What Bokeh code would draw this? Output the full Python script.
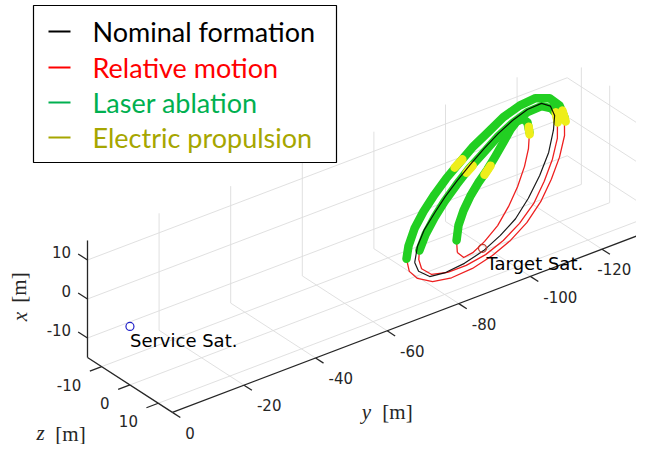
import numpy as np
from bokeh.plotting import figure
from bokeh.models import Range1d
from bokeh.embed import file_html
from bokeh.resources import INLINE
from bokeh.core.properties import value

# ---------------- data (metres) ----------------
X_LIM = (-15, 15)
Y_LIM = (-134, 0)
Z_LIM = (-15, 15)
X_TICKS = [-10, 0, 10]
Y_TICKS = [0, -20, -40, -60, -80, -100, -120]
Z_TICKS = [-10, 0, 10]

# nominal formation (closed ellipse)
nominal_x = [-6.5, -4.3, -2.2, -0.3, 1.5, 3.2, 4.8, 6.4, 7.8, 8.9, 9.7, 9.8, 8.9, 7.3, 5.2, 2.2,
             -0.7, -3.4, -5.7, -7.3, -8.6, -9.4, -9.7, -9.4, -8.0, -6.5]
nominal_y = [-74.4, -76.9, -80.5, -84.9, -89.3, -94.0, -98.9, -104.1, -109.1, -113.9, -118.7,
             -122.7, -124.5, -124.4, -122.4, -118.7, -113.9, -108.6, -103.2, -97.7, -92.0, -86.0,
             -80.5, -76.3, -74.3, -74.4]
nominal_z = [6.5, 4.3, 2.2, 0.3, -1.5, -3.2, -4.8, -6.4, -7.8, -8.9, -9.7, -9.8, -8.9, -7.3, -5.2,
             -2.2, 0.7, 3.4, 5.7, 7.3, 8.6, 9.4, 9.7, 9.4, 8.0, 6.5]

# relative motion, three revolutions
rel1_x = [-5.5, -3.7, -1.5, 0.5, 2.4, 4.1, 5.7, 7.3, 8.6, 9.9, 10.7, 10.9, 10.1, 8.5, 6.5, 3.8, 0.9,
          -1.9, -4.6, -6.9, -8.6, -9.8, -10.6, -10.8, -10.3, -9.0, -7.5, -5.5]
rel1_y = [-72.9, -74.9, -78.3, -82.4, -87.0, -91.6, -96.6, -101.7, -107.0, -112.1, -117.3, -121.9,
          -125.2, -126.7, -126.5, -124.4, -120.7, -116.2, -111.1, -105.4, -99.5, -93.5, -87.3,
          -81.3, -76.4, -73.2, -72.1, -72.9]
rel1_z = [5.5, 3.7, 1.5, -0.5, -2.4, -4.1, -5.7, -7.3, -8.6, -9.9, -10.7, -10.9, -10.1, -8.5, -6.5,
          -3.8, -0.9, 1.9, 4.6, 6.9, 8.6, 9.8, 10.6, 10.8, 10.3, 9.0, 7.5, 5.5]

rel2_x = [-5.0, -3.0, -1.0, 0.8, 2.6, 4.3, 5.8, 7.3, 8.5, 9.3, 9.4, 8.5, 7.3, 6.3, 3.8, 1.0, -1.8,
          -4.5, -6.6, -8.2, -9.3, -9.8, -9.8, -9.2, -7.8, -6.3, -5.0]
rel2_y = [-76.9, -80.2, -84.3, -88.5, -93.3, -98.2, -103.4, -108.4, -113.6, -118.4, -122.4, -124.5,
          -125.0, -124.4, -122.4, -118.8, -114.3, -109.2, -103.6, -97.8, -92.0, -86.2, -81.0,
          -77.0, -75.3, -75.7, -76.9]
rel2_z = [5.0, 3.0, 1.0, -0.8, -2.6, -4.3, -5.8, -7.3, -8.5, -9.3, -9.4, -8.5, -7.3, -6.3, -3.8,
          -1.0, 1.8, 4.5, 6.6, 8.2, 9.3, 9.8, 9.8, 9.2, 7.8, 6.3, 5.0]

rel3_x = [-7.4, -5.6, -3.5, -1.6, 0.2, 1.7, 3.1, 4.6, 6.2, 7.7, 8.5, 8.6, 7.8, 6.2, 3.9, 1.5, -1.1,
          -3.5, -5.7, -7.3, -8.3, -8.5, -7.4]
rel3_y = [-85.6, -86.8, -89.0, -91.9, -95.3, -98.7, -102.3, -105.7, -109.2, -112.4, -114.7, -116.5,
          -117.2, -116.5, -114.4, -111.4, -107.4, -103.0, -98.2, -93.3, -89.2, -86.5, -85.6]
rel3_z = [7.4, 5.6, 3.5, 1.6, -0.2, -1.7, -3.1, -4.6, -6.2, -7.7, -8.5, -8.6, -7.8, -6.2, -3.9,
          -1.5, 1.1, 3.5, 5.7, 7.3, 8.3, 8.5, 7.4]

# laser ablation arcs: (revolution, first index, end index) along the relative motion
laser_arcs = [(1, 0, 15), (2, 0, 14), (3, 1, 14)]

# electric propulsion arcs (start / end points)
prop_x = [[7.6, 5.8], [7.7, 6.1], [7.1, 5.9], [5.2, 6.0], [3.8, 4.5], [2.5, 3.5]]
prop_y = [[-126.8, -126.3], [-125.0, -124.3], [-117.0, -116.3], [-94.8, -97.6], [-97.0, -99.3],
          [-101.0, -103.5]]
prop_z = [[-7.6, -5.8], [-7.7, -6.1], [-7.1, -5.9], [-5.2, -6.0], [-3.8, -4.5], [-2.5, -3.5]]

target_xyz = (-8.2, -92.0, 8.2)
service_xyz = (0.0, 0.0, 0.0)

legend_labels = ["Nominal formation", "Relative motion", "Laser ablation", "Electric propulsion"]

# ---------------- projection (view geometry, screen pixels) ----------------
W, H = 636, 444
O_PX = (87.0, 357.0)      # corner (x=-15, y=0, z=-15)
EX = (0.0, -3.9)          # per metre of x
EY = (-3.58, 1.36)        # per metre of y
EZ = (2.83, 1.83)         # per metre of z


def proj(x, y, z):
    x = np.asarray(x, dtype=float)
    y = np.asarray(y, dtype=float)
    z = np.asarray(z, dtype=float)
    dx, dy, dz = x - X_LIM[0], y - Y_LIM[1], z - Z_LIM[0]
    sx = O_PX[0] + dx * EX[0] + dy * EY[0] + dz * EZ[0]
    sy = O_PX[1] + dx * EX[1] + dy * EY[1] + dz * EZ[1]
    return sx, sy


def seg(a, b):
    sx, sy = proj([a[0], b[0]], [a[1], b[1]], [a[2], b[2]])
    return list(sx), list(sy)


p = figure(width=W, height=H, x_range=Range1d(0, W), y_range=Range1d(H, 0),
           output_backend="svg", toolbar_location=None, x_axis_type=None, y_axis_type=None,
           min_border=0)
p.grid.visible = False
p.outline_line_color = None
p.background_fill_color = "white"
p.border_fill_color = "white"

x0, x1 = X_LIM
y_far, y_near = Y_LIM
z0, z1 = Z_LIM

# grid on back planes
gxs, gys = [], []
for yt in Y_TICKS:
    for a, b in [((x0, yt, z0), (x1, yt, z0)), ((x0, yt, z0), (x0, yt, z1))]:
        sx, sy = seg(a, b); gxs.append(sx); gys.append(sy)
for xt in X_TICKS:
    for a, b in [((xt, y_near, z0), (xt, y_far, z0)), ((xt, y_far, z0), (xt, y_far, z1))]:
        sx, sy = seg(a, b); gxs.append(sx); gys.append(sy)
for zt in Z_TICKS:
    for a, b in [((x0, y_near, zt), (x0, y_far, zt)), ((x0, y_far, zt), (x1, y_far, zt))]:
        sx, sy = seg(a, b); gxs.append(sx); gys.append(sy)
p.multi_line(gxs, gys, line_color="#dcdcdc", line_width=0.9)

# axis lines
AX = "#262626"
axs, ays = [], []
for a, b in [((x0, y_near, z0), (x1, y_near, z0)),
             ((x0, y_near, z0), (x0, y_near, z1)),
             ((x0, y_near, z1), (x0, y_far, z1))]:
    sx, sy = seg(a, b); axs.append(sx); ays.append(sy)

# ticks and labels
TL = 3.3
TFS = 15
tick_font = value("DejaVu Sans")
lab = {"x": [], "y": [], "t": []}
for xt in X_TICKS:
    sx, sy = seg((xt, y_near, z0), (xt, y_near, z0 - TL)); axs.append(sx); ays.append(sy)
    lab["x"].append(sx[1] - 7); lab["y"].append(sy[1] - 2); lab["t"].append(str(xt))
p.text(lab["x"], lab["y"], text=lab["t"], text_align="right", text_baseline="middle",
       text_font=tick_font, text_font_size=f"{TFS}px", text_color=AX)

lab = {"x": [], "y": [], "t": []}
for zt in Z_TICKS:
    sx, sy = seg((x0, y_near, zt), (x0, y_near + TL, zt)); axs.append(sx); ays.append(sy)
    lab["x"].append(sx[1] - 8.5); lab["y"].append(sy[1] + 13.5); lab["t"].append(str(zt))
p.text(lab["x"], lab["y"], text=lab["t"], text_align="right", text_baseline="middle",
       text_font=tick_font, text_font_size=f"{TFS}px", text_color=AX)

lab = {"x": [], "y": [], "t": []}
for yt in Y_TICKS:
    sx, sy = seg((x0, yt, z1), (x0, yt, z1 + 2.8)); axs.append(sx); ays.append(sy)
    est_w = 0.62 * TFS * len(str(yt))
    lx = min(sx[1] + 5, W - 2 - est_w)          # keep the last label inside the frame
    lab["x"].append(lx); lab["y"].append(sy[1] + 15); lab["t"].append(str(yt))
p.text(lab["x"], lab["y"], text=lab["t"], text_align="left", text_baseline="middle",
       text_font=tick_font, text_font_size=f"{TFS}px", text_color=AX)
p.multi_line(axs, ays, line_color=AX, line_width=1.3)

# axis titles (LaTeX-like)
serif = value("Liberation Serif")
p.text([366], [411], text=["y"], text_font=serif, text_font_style="italic", text_font_size="21px",
       text_align="center", text_baseline="middle", text_color=AX)
p.text([397], [411], text=["[m]"], text_font=serif, text_font_size="21px",
       text_align="center", text_baseline="middle", text_color=AX)
p.text([40], [432], text=["z"], text_font=serif, text_font_style="italic", text_font_size="21px",
       text_align="center", text_baseline="middle", text_color=AX)
p.text([70], [433], text=["[m]"], text_font=serif, text_font_size="21px",
       text_align="center", text_baseline="middle", text_color=AX)
p.text([19], [316], text=["x"], text_font=serif, text_font_style="italic", text_font_size="21px",
       text_align="center", text_baseline="middle", text_color=AX, angle=np.pi / 2)
p.text([18], [287], text=["[m]"], text_font=serif, text_font_size="21px",
       text_align="center", text_baseline="middle", text_color=AX, angle=np.pi / 2)

# relative motion (red)
revs = {1: (rel1_x, rel1_y, rel1_z), 2: (rel2_x, rel2_y, rel2_z), 3: (rel3_x, rel3_y, rel3_z)}
rxs, rys = [], []
for k in (1, 2, 3):
    sx, sy = proj(*revs[k]); rxs.append(list(sx)); rys.append(list(sy))
p.multi_line(rxs, rys, line_color="#ee2020", line_width=1.3)

# laser ablation (green, thick)
lxs, lys = [], []
for k, i0, i1 in laser_arcs:
    xx, yy, zz = revs[k]
    sx, sy = proj(xx[i0:i1], yy[i0:i1], zz[i0:i1]); lxs.append(list(sx)); lys.append(list(sy))
p.multi_line(lxs, lys, line_color="#22cf22", line_width=8.5, line_cap="round", line_join="round")

# electric propulsion (yellow, thick)
exs, eys = [], []
for xx, yy, zz in zip(prop_x, prop_y, prop_z):
    sx, sy = proj(xx, yy, zz); exs.append(list(sx)); eys.append(list(sy))
p.multi_line(exs, eys, line_color="#eeee1a", line_width=8.5, line_cap="round")

# nominal formation (black)
sx, sy = proj(nominal_x, nominal_y, nominal_z)
p.line(sx, sy, line_color="black", line_width=1.2, line_alpha=0.9)

# satellites
tx, ty = proj([target_xyz[0]], [target_xyz[1]], [target_xyz[2]])
p.scatter(tx, ty, marker="circle", size=8, fill_color=None, line_color="#c0392b", line_width=1.2)
p.text(tx + 4, ty + 15, text=["Target Sat."], text_font=value("DejaVu Sans"),
       text_font_size="18px", text_baseline="middle", text_color="black")
vx, vy = proj([service_xyz[0]], [service_xyz[1]], [service_xyz[2]])
p.scatter(vx, vy, marker="circle", size=8, fill_color=None, line_color="#2020c8", line_width=1.2)
p.text(vx + 0, vy + 14, text=["Service Sat."], text_font=value("DejaVu Sans"),
       text_font_size="18px", text_baseline="middle", text_color="black")

# legend box
p.quad(left=[33], right=[336], top=[5], bottom=[162], fill_color="white", line_color="black",
       line_width=1.2)
leg_colors = ["#000000", "#ff0000", "#00b050", "#a6a600"]
rows = [31, 67, 102, 137]
for lbl, c, ry in zip(legend_labels, leg_colors, rows):
    p.line([48, 70], [ry, ry], line_color=c, line_width=2)
    p.text([92], [ry], text=[lbl], text_font=value("Lato"), text_font_size="27px",
           text_baseline="middle", text_color=c)

open("out.html", "w").write(file_html(p, INLINE))
